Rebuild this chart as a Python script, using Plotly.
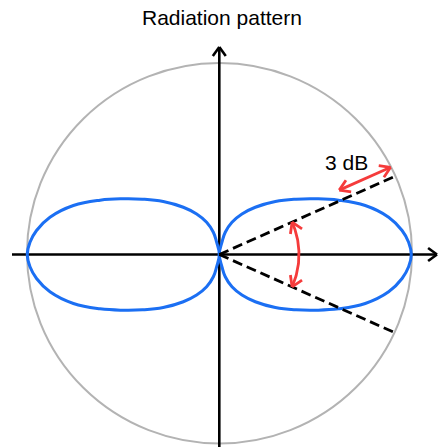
import numpy as np
import plotly.graph_objects as go

# Outline of the upper half of one lobe (normalised to the 0 dB circle radius):
# distance along the main axis and the lobe's half-height at that distance
lobe_x = [0.0, 0.014, 0.031, 0.066, 0.118, 0.1875, 0.292, 0.40, 0.50, 0.621,
          0.760, 0.882, 0.952, 0.986, 1.0]
lobe_y = [0.0, 0.064, 0.116, 0.168, 0.211, 0.246, 0.276, 0.288, 0.290, 0.283,
          0.255, 0.194, 0.125, 0.064, 0.0]

# Half-power (3 dB) direction and its relative field level
half_power_angle_deg = 24.0
half_power_level = 0.707
beam_label = "3 dB"
title_text = "Radiation pattern"

# Pixel geometry of the drawing (1 unit = reference circle radius)
W, H = 438, 447
PX = 192.0                 # pixels per unit
CX, CY = 219.3, 254.5      # origin in pixels from top-left
x_range = [-CX / PX, (W - CX) / PX]
y_range = [-(H - CY) / PX, CY / PX]

BLUE = "#1b6ff3"
RED = "#f53b3b"
GREY = "#b3b3b3"
BLACK = "#000000"
FONT = "Liberation Sans, Arial"

fig = go.Figure()


def px_x(p):
    return (p - CX) / PX


def px_y(p):
    return (CY - p) / PX


def add_line(xs, ys, color, width, dash=None, shape="linear", smoothing=1.0):
    line = dict(color=color, width=width, dash=dash, shape=shape)
    if shape == "spline":
        line["smoothing"] = smoothing
    fig.add_trace(go.Scatter(x=xs, y=ys, mode="lines", hoverinfo="skip",
                             showlegend=False, line=line))


def add_chevron(tip, direction, color, width, length, half_angle_deg):
    d = np.asarray(direction, float)
    d = d / np.hypot(*d)
    a = np.radians(half_angle_deg)
    xs, ys = [], []
    for s in (1, -1):
        c, sn = np.cos(s * a), np.sin(s * a)
        back = -np.array([d[0] * c - d[1] * sn, d[0] * sn + d[1] * c])
        xs += [tip[0] + back[0] * length, tip[0], None]
        ys += [tip[1] + back[1] * length, tip[1], None]
    add_line(xs, ys, color, width)


# Reference (0 dB) circle
fig.add_shape(type="circle", xref="x", yref="y",
              x0=px_x(27), x1=px_x(412), y0=px_y(443.5), y1=px_y(63),
              line=dict(color=GREY, width=2), layer="below")

# Coordinate axes with open arrowheads
ax_w = 2.6
add_line([px_x(12), px_x(437)], [0, 0], BLACK, ax_w)
add_chevron((px_x(437), 0), (1, 0), BLACK, ax_w, 11 / PX, 36)
add_line([0, 0], [px_y(H + 2), px_y(47)], BLACK, ax_w)
add_chevron((0, px_y(47)), (0, 1), BLACK, ax_w, 11 / PX, 36)

# Two-lobe radiation pattern: upper outline, then mirrored lower outline
lx = np.array(lobe_x, float)
ly = np.array(lobe_y, float)
loop_x = np.concatenate([lx, lx[-2::-1]])
loop_y = np.concatenate([ly, -ly[-2::-1]])
for side in (1, -1):
    add_line(side * loop_x, loop_y, BLUE, 3, shape="spline", smoothing=1.2)

# Half-power direction lines
hp = np.radians(half_power_angle_deg)
for s in (1, -1):
    add_line([0, 1.01 * np.cos(hp)], [0, 1.01 * s * np.sin(hp)], BLACK, 2.8, dash="10px,5px")

# Beamwidth arc between the two half-power directions
red_w = 2.8
arc_r = 0.415
t = np.linspace(-hp, hp, 60)
add_line(arc_r * np.cos(t), arc_r * np.sin(t), RED, red_w)
for s in (1, -1):
    tip = (arc_r * np.cos(s * hp), arc_r * np.sin(s * hp))
    add_chevron(tip, (-s * np.sin(s * hp), s * np.cos(s * hp)), RED, red_w, 12 / PX, 32)

# 3 dB drop marker alongside the upper half-power line
u = np.array([np.cos(hp), np.sin(hp)])
n = np.array([-np.sin(hp), np.cos(hp)])
off = 10 / PX
p1 = u * half_power_level + n * off
p2 = u * 1.0 + n * off
add_line([p1[0], p2[0]], [p1[1], p2[1]], RED, red_w)
add_chevron(tuple(p2), u, RED, red_w, 12 / PX, 32)
add_chevron(tuple(p1), -u, RED, red_w, 12 / PX, 32)

fig.add_annotation(x=px_x(346.5), y=px_y(162.5), xref="x", yref="y",
                   text=beam_label, showarrow=False, yanchor="middle",
                   font=dict(size=21, color=BLACK, family=FONT))

fig.add_annotation(x=222.5 / W, y=1 - 18 / H, xref="paper", yref="paper",
                   text=title_text, showarrow=False, yanchor="middle",
                   font=dict(size=21, color=BLACK, family=FONT))

fig.update_layout(
    width=W, height=H, margin=dict(l=0, r=0, t=0, b=0),
    paper_bgcolor="white", plot_bgcolor="white",
    xaxis=dict(range=x_range, visible=False, fixedrange=True),
    yaxis=dict(range=y_range, visible=False, fixedrange=True),
)

fig.write_html("out.html")
